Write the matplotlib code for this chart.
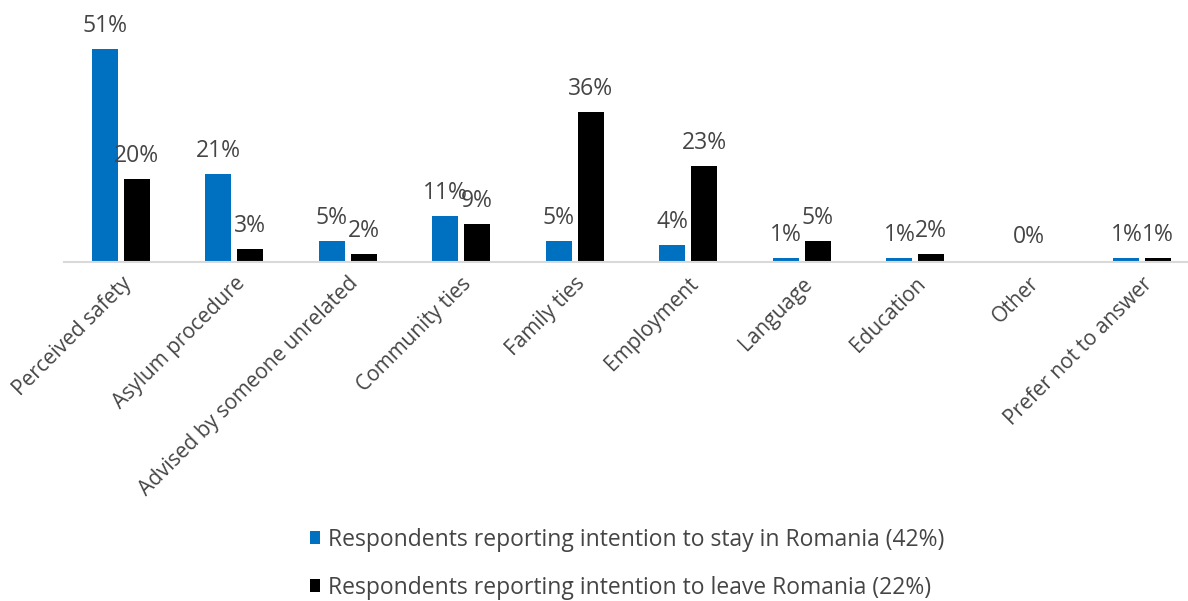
import numpy as np
import matplotlib.pyplot as plt

plt.rcParams['font.family'] = ['Open Sans', 'DejaVu Sans']

categories = ["Perceived safety", "Asylum procedure", "Advised by someone unrelated",
              "Community ties", "Family ties", "Employment", "Language", "Education",
              "Other", "Prefer not to answer"]
stay = [51, 21, 5, 11, 5, 4, 1, 1, 0, 1]
leave = [20, 3, 2, 9, 36, 23, 5, 2, 0, 1]
stay_label = "Respondents reporting intention to stay in Romania (42%)"
leave_label = "Respondents reporting intention to leave Romania (22%)"

blue = "#0070C0"
txt = "#454545"

fig = plt.figure(figsize=(11.88, 6.01), dpi=100)
ax = fig.add_axes([64 / 1188, (601 - 262) / 601, (1199 - 64) / 1188, 250 / 601])

x = np.arange(len(categories))
w = 0.23
off = 0.14
b1 = ax.bar(x - off, stay, w, color=blue, label=stay_label)
b2 = ax.bar(x + off, leave, w, color="black", label=leave_label)

for i in range(len(categories)):
    if stay[i] == 0 and leave[i] == 0:
        ax.annotate("0%", (x[i], 0), xytext=(0, 9), textcoords="offset points",
                    ha="center", va="bottom", fontsize=16.5, color=txt)
        continue
    ax.annotate(f"{stay[i]}%", (x[i] - off, stay[i]), xytext=(0, 8),
                textcoords="offset points", ha="center", va="bottom", fontsize=16.5, color=txt)
    ax.annotate(f"{leave[i]}%", (x[i] + off, leave[i]), xytext=(0, 8),
                textcoords="offset points", ha="center", va="bottom", fontsize=16.5, color=txt)

ax.set_xlim(-0.5, len(categories) - 0.5)
ax.set_ylim(0, 60)
ax.set_yticks([])
for s in ["top", "right", "left"]:
    ax.spines[s].set_visible(False)
ax.spines["bottom"].set_color("#D9D9D9")
ax.spines["bottom"].set_linewidth(1.5)
ax.set_xticks(x)
ax.set_xticklabels(categories, rotation=45, ha="right", rotation_mode="anchor",
                   fontsize=15, color=txt)
ax.tick_params(axis="x", length=0, pad=8)

fig.legend(handles=[b1, b2], loc="center", bbox_to_anchor=(0.528, 0.062),
           ncol=1, frameon=False, fontsize=16.5, labelcolor=txt,
           handlelength=0.45, handleheight=0.45, handletextpad=0.35, labelspacing=1.05)

fig.savefig("out.png", dpi=100)
